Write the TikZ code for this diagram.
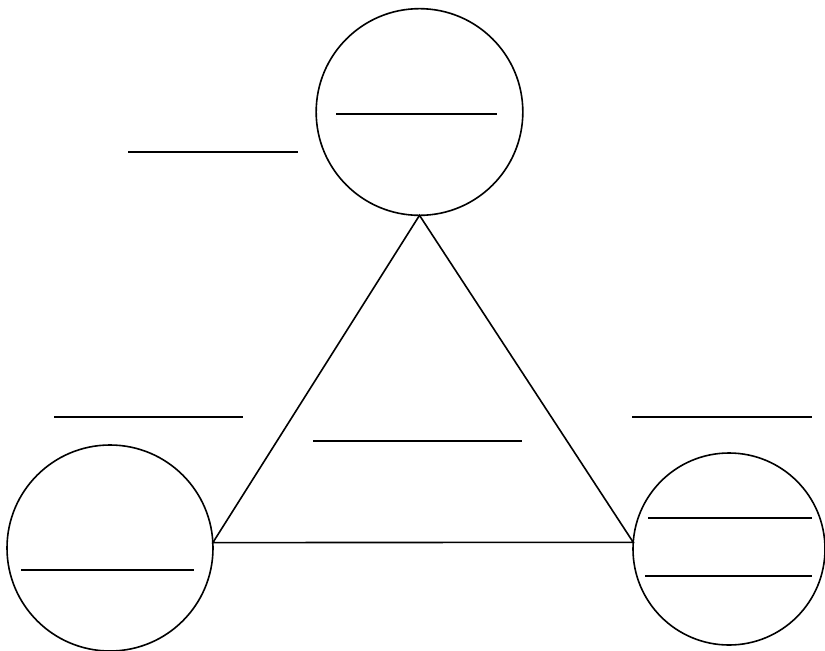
\documentclass[tikz,border=0pt]{standalone}
\usepackage{tikz}

\begin{document}
\begin{tikzpicture}[
  x=0.75pt, y=-0.75pt,
  line width=1.2pt,
  every node/.style={draw=black, line width=1.2pt, inner sep=0pt, outer sep=0pt},
  corner/.style={circle},
  blank/.style={draw=black, line width=1.5pt},
  side/.style={draw=black, line width=1.2pt, line join=miter},
]
\useasboundingbox (0,0) rectangle (825,650);

% ---- Corner circles ----
\node (topc)   at (419.5,112) [corner, minimum size=155pt] {};
\node (leftc)  at (110,548)   [corner, minimum size=154.5pt] {};
\node (rightc) at (729,549)   [corner, minimum size=144pt] {};

% ---- Triangle between the circles ----
\draw[side] (topc.south) -- (leftc.3) -- (rightc.176) -- cycle;

% ---- Blank lines ----
\foreach \xa/\xb/\yy in {128/298/152, 336/497/114,
                         54/243/417, 313/522/441, 632/812/417,
                         21/194/570, 648/812/518, 645/812/576}
  \draw[blank] (\xa,\yy) -- (\xb,\yy);

\end{tikzpicture}
\end{document}
